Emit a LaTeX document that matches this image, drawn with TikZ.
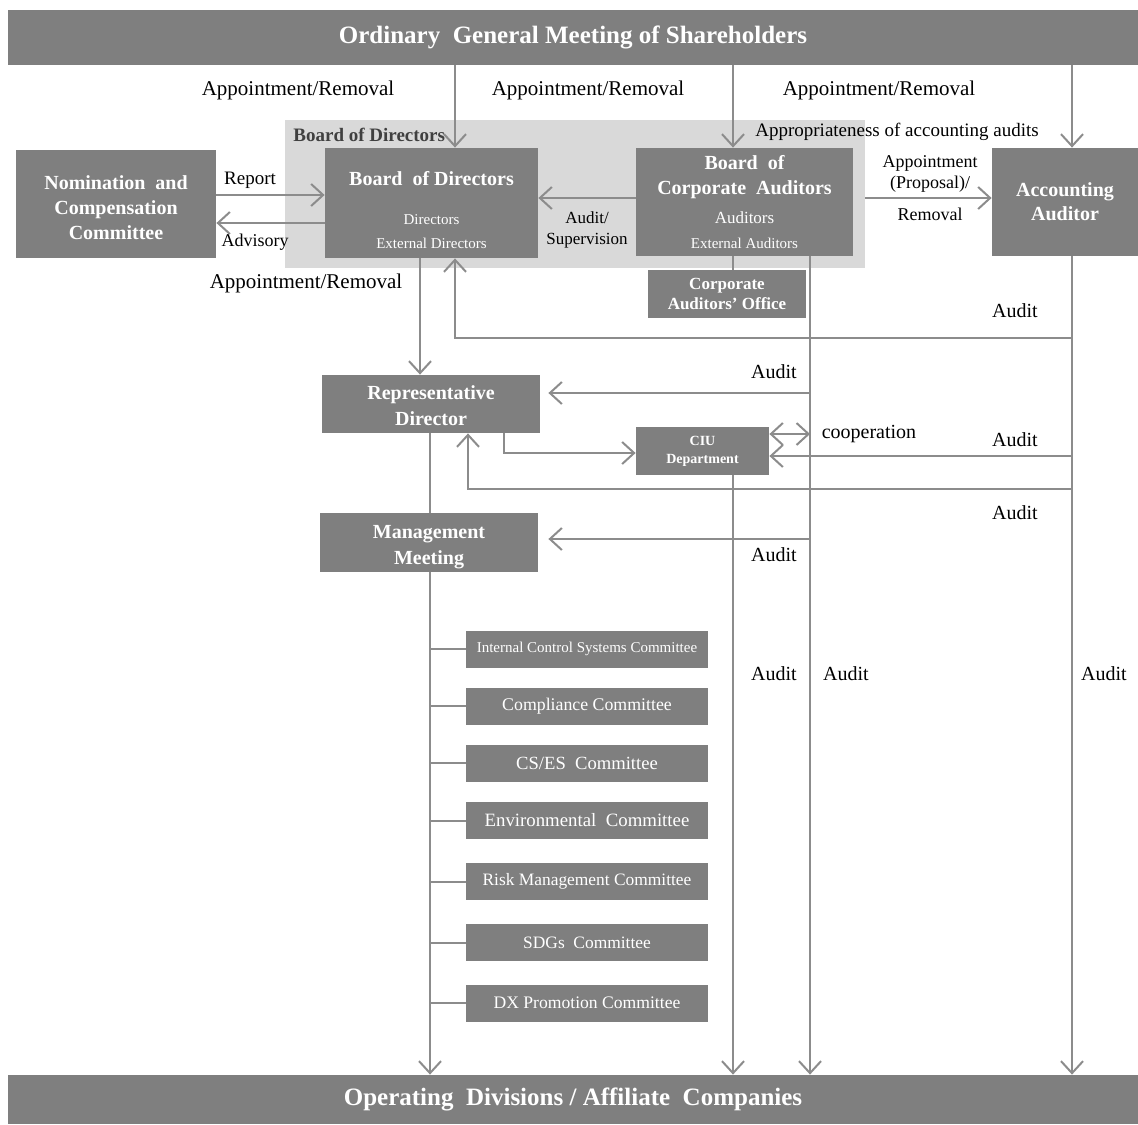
\documentclass[tikz,border=0pt]{standalone}
\usepackage{fontspec}
\setmainfont{Liberation Serif}
\usetikzlibrary{arrows.meta}
\definecolor{boxgray}{HTML}{7F7F7F}
\definecolor{linegray}{HTML}{8C8C8C}
\definecolor{areagray}{HTML}{D9D9D9}
\definecolor{titlegray}{HTML}{404040}
\newcommand{\fsz}[2]{\fontsize{#1}{#2}\selectfont}
\newcommand{\subt}[2]{{\mdseries\fsz{#1}{#1}#2}}
\begin{document}
\begin{tikzpicture}[x=0.5pt,y=-0.5pt,
	>={Straight Barb[length=6pt,width=11pt]},
	box/.style={fill=boxgray,text=white,inner sep=0pt,align=center,font=\bfseries\fsz{10}{12.5}},
	tbar/.style={fill=boxgray,text=white,inner sep=0pt,minimum width=565pt,font=\bfseries\fsz{12.5}{15}},
	cbox/.style={box,minimum width=121pt,minimum height=18.5pt},
	lbl/.style={inner sep=0pt,font=\fsz{10}{12}},
	ln/.style={draw=linegray,line width=1pt},
	arr/.style={ln,->}]
	\useasboundingbox (0,0) rectangle (1138,1124);

	% shareholders and divisions
	\node[tbar,minimum height=27.5pt] (top) at (573,37.5) {Ordinary\ \ General Meeting of Shareholders};
	\node[tbar,minimum height=24.5pt] (bottom) at (573,1099.5) {Operating\ \ Divisions / Affiliate\ \ Companies};

	% board area
	\node[fill=areagray,minimum width=290pt,minimum height=74pt] (area) at (575,194) {};
	\node[anchor=west,inner sep=0pt,text=titlegray,font=\bfseries\fsz{9.5}{11}] (arealbl) at (293,135) {Board of Directors};

	\node[box,minimum width=100pt,minimum height=54pt] (nom) at (116,204) {\rule{0pt}{11pt}Nomination\ \ and\\Compensation\\Committee};
	\node[box,minimum width=106.5pt,minimum height=55pt] (bod) at (431.5,203) {\rule{0pt}{14pt}Board\ \ of Directors\\[7pt]\subt{7.5}{Directors}\\[-0.5pt]\subt{7.5}{External Directors}};
	\node[box,minimum width=108.5pt,minimum height=54pt] (boca) at (744.5,202) {Board\ \ of\\Corporate\ \ Auditors\\[2pt]\subt{8.5}{Auditors}\\\subt{7.5}{External Auditors}};
	\node[box,minimum width=73pt,minimum height=54pt,font=\bfseries\fsz{10}{12}] (aa) at (1065,202) {Accounting\\Auditor};
	\node[box,minimum width=79pt,minimum height=24pt,font=\bfseries\fsz{8.5}{10}] (office) at (727,294) {Corporate\\Auditors' Office};

	% executive side
	\node[box,minimum width=109pt,minimum height=29pt,font=\bfseries\fsz{10}{13}] (rep) at (431,404) {\rule{0pt}{9pt}Representative\\Director};
	\node[box,minimum width=66.5pt,minimum height=24pt,font=\bfseries\fsz{7}{9}] (ciu) at (702.5,451) {CIU\\Department};
	\node[box,minimum width=109pt,minimum height=29.5pt,font=\bfseries\fsz{10}{13}] (mgmt) at (429,542.5) {\rule{0pt}{11pt}Management\\Meeting};

	\foreach \y/\s/\t [count=\i] in {649/7.5/{Internal Control Systems Committee},
		706/8.9/{Compliance Committee}, 763/9.3/{CS/ES\ \ Committee},
		820.5/9.4/{Environmental\ \ Committee}, 881.5/8.7/{Risk Management Committee},
		942.5/8.7/{SDGs\ \ Committee}, 1003/8.8/{DX Promotion Committee}}{
		\node[cbox,font=\mdseries\fsz{\s}{\s}] (com\i) at (587,\y) {\t};
		\draw[ln] (com\i.west -| 430,0) -- (com\i.west);
	}

	% labels
	\node[lbl,font=\fsz{10.5}{12}] (apr1) at (298,90) {Appointment/Removal};
	\node[lbl,font=\fsz{10.5}{12}] (apr2) at (588,90) {Appointment/Removal};
	\node[lbl,font=\fsz{10.5}{12}] (apr3) at (879,90) {Appointment/Removal};
	\node[lbl,font=\fsz{10.5}{12}] (apr4) at (306,283) {Appointment/Removal};
	\node[lbl,font=\fsz{9.5}{12}] (approp) at (897,132) {Appropriateness of accounting audits};
	\node[lbl,font=\fsz{9.5}{12}] (report) at (250,180) {Report};
	\node[lbl,font=\fsz{9}{12}] (advis) at (255,242) {Advisory};
	\node[lbl,align=center,font=\fsz{8.5}{10.5}] (audsup) at (587,230) {Audit/\\Supervision};
	\node[lbl,align=center,font=\fsz{9}{10.5}] (propos) at (930,174) {Appointment\\(Proposal)/};
	\node[lbl,font=\fsz{9}{12}] (remov) at (930,214) {Removal};
	\node[lbl] (coop) at (869,434) {cooperation};
	\foreach \x/\y [count=\i] in {1015/311, 774/372, 1015/440, 1015/513, 774/555, 774/674, 846/674, 1104/674}
		\node[lbl] (audit\i) at (\x,\y) {Audit};

	% appointment lines
	\draw[arr] (top.south -| 455,0) -- (bod.north -| 455,0);
	\draw[arr] (top.south -| 733,0) -- (boca.north -| 733,0);
	\draw[arr] (top.south -| 1072,0) -- (aa.north -| 1072,0);
	\draw[arr] (nom.east |- 0,195) -- (bod.west |- 0,195);
	\draw[arr] (bod.west |- 0,223) -- (nom.east |- 0,223);
	\draw[arr] (boca.west |- 0,198) -- (bod.east |- 0,198);
	\draw[arr] (area.east |- 0,198) -- (aa.west |- 0,198);
	\draw[ln] (boca.south -| 733,0) -- (office.north -| 733,0);
	\draw[arr] (bod.south -| 420,0) -- (rep.north -| 420,0);

	% audit lines
	\coordinate (aax) at (1072,0);
	\coordinate (bcx) at (810,0);
	\draw[arr] (aa.south -| aax) -- (bottom.north -| aax);
	\draw[arr] (boca.south -| bcx) -- (bottom.north -| bcx);
	\draw[arr] (aax |- 0,338) -| (bod.south -| 455,0);
	\draw[arr,shorten >=4pt] (bcx |- 0,393) -- (rep.east |- 0,393);
	\draw[arr,shorten >=5pt] (bcx |- 0,539) -- (mgmt.east |- 0,539);
	\draw[ln,<->] (ciu.east |- 0,434) -- (bcx |- 0,434);
	\draw[arr] (aax |- 0,456) -- (ciu.east |- 0,456);
	\draw[arr] (aax |- 0,489) -| (rep.south -| 468,0);
	\draw[arr] (rep.south -| 504,0) |- (ciu.west |- 0,453);
	\draw[arr] (ciu.south -| 733,0) -- (bottom.north -| 733,0);
	\draw[ln] (rep.south -| 430,0) -- (mgmt.north -| 430,0);
	\draw[arr] (mgmt.south -| 430,0) -- (bottom.north -| 430,0);
\end{tikzpicture}
\end{document}
